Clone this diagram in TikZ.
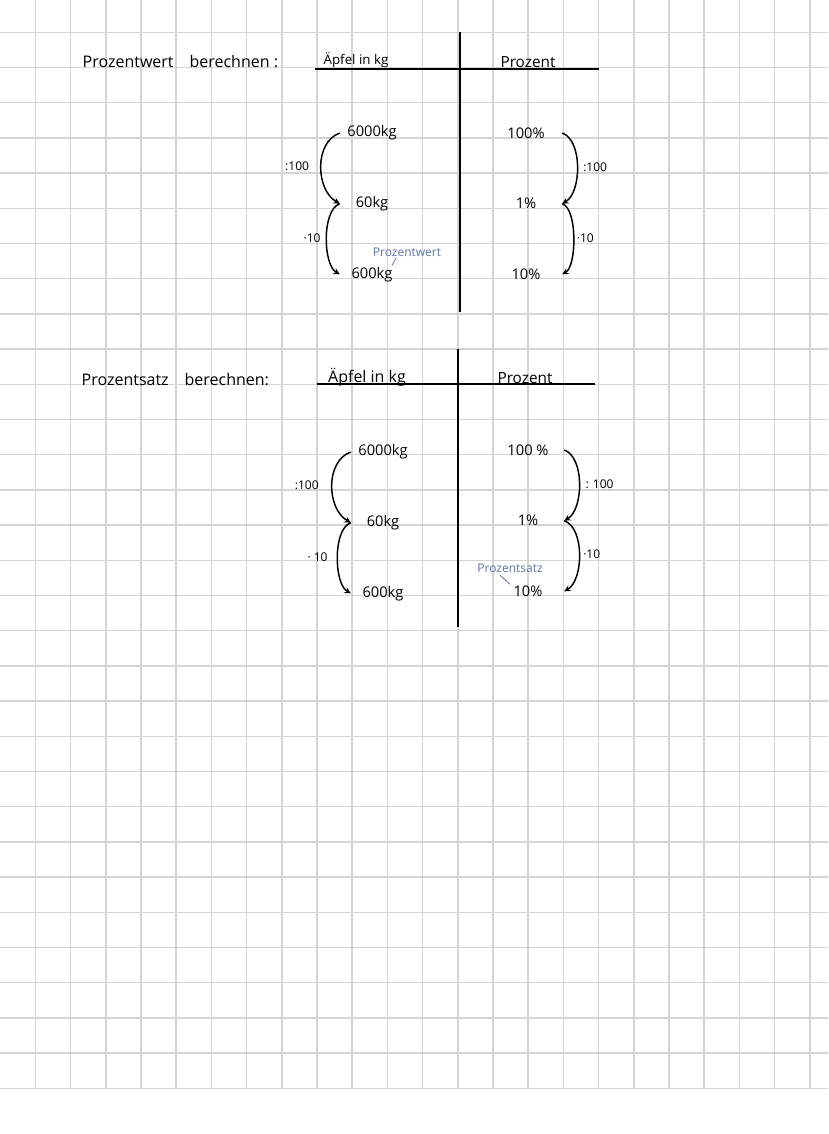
\documentclass[tikz,border=0pt]{standalone}
\usepackage{fontspec}
\setmainfont{Open Sans}
\usetikzlibrary{positioning}
\definecolor{notizblau}{RGB}{92,118,172}
\definecolor{gitter}{RGB}{212,212,212}

\begin{document}
\begin{tikzpicture}[x=0.75pt, y=0.75pt, node distance=53pt, on grid, >=stealth,
        titel/.style={anchor=west, font=\fontsize{12}{14}\selectfont},
        kopf/.style={font=\fontsize{11.5}{13}\selectfont},
        kg/.style={minimum width=48pt, inner sep=1pt, font=\fontsize{11}{13}\selectfont},
        pz/.style={minimum width=54pt, inner sep=1pt, font=\fontsize{11}{13}\selectfont},
        faktor/.style={inner sep=1pt, font=\fontsize{9}{11}\selectfont},
        notiz/.style={inner sep=1pt, text=notizblau, font=\fontsize{9}{11}\selectfont},
        pfeil/.style={->, line width=1.1pt},
        tabelle/.style={line width=1.5pt}]

        % Karopapier
        \useasboundingbox[fill=white] (0,0) rectangle (828,-1134);
        \foreach \i in {1,...,23}
            \draw[gitter, line width=1.1pt] (0.2+35.2*\i,0) -- (0.2+35.2*\i,-1088.3);
        \foreach \j in {0,...,30}
            \draw[gitter, line width=1.1pt] (0,-32.3-35.2*\j) -- (828,-32.3-35.2*\j);

        % Prozentwert
        \node[titel] (wtitel) at (78,-62) {Prozentwert\quad berechnen :};
        \node[kopf, font=\fontsize{10}{12}\selectfont] (wkopfkg) at (356,-60) {Äpfel in kg};
        \node[kopf] (wkopfp) at (528,-62) {Prozent};
        \coordinate (wlinks) at (315,-69);
        \coordinate (wrechts) at (599,-69);
        \coordinate (woben) at (460,-32);
        \coordinate (wunten) at (460,-312);
        \draw[tabelle] (wlinks) -- (wrechts) (woben) -- (wunten);

        \node[kg] (wkg1) at (372,-133) {6000kg};
        \node[kg, below=of wkg1] (wkg2) {60kg};
        \node[kg, below=of wkg2] (wkg3) {600kg};
        \node[pz] (wp1) at (526,-133) {100\%};
        \node[pz, below=of wp1] (wp2) {1\%};
        \node[pz, below=of wp2] (wp3) {10\%};
        \node[notiz] (wnotiz) at (407,-252) {Prozentwert};

        \path[pfeil]
        (wkg1.west) edge[out=200, in=150] node[faktor, left=7.5pt] {:100} (wkg2.west)
        (wkg2.west) edge[out=200, in=150, looseness=0.7] node[faktor, left=3pt] {·10} (wkg3.west)
        (wp1.east) edge[out=-20, in=30, looseness=0.8] node[faktor, right=3pt] {:100} (wp2.east)
        (wp2.east) edge[out=-20, in=30, looseness=0.6] node[faktor, right=1pt] {·10} (wp3.east);
        \draw[notizblau, line width=0.6pt] ([xshift=-8.25pt]wnotiz.south) -- ([xshift=15pt]wkg3.north);

        % Prozentsatz
        \node[titel] (stitel) at (77,-380) {Prozentsatz\quad berechnen:};
        \node[kopf, font=\fontsize{12}{14}\selectfont] (skopfkg) at (367,-377) {Äpfel in kg};
        \node[kopf] (skopfp) at (525,-378) {Prozent};
        \coordinate (slinks) at (317,-384);
        \coordinate (srechts) at (595,-384);
        \coordinate (soben) at (458,-349);
        \coordinate (sunten) at (458,-627);
        \draw[tabelle] (slinks) -- (srechts) (soben) -- (sunten);

        \node[kg] (skg1) at (383,-452) {6000kg};
        \node[kg, below=of skg1] (skg2) {60kg};
        \node[kg, below=of skg2] (skg3) {600kg};
        \node[pz] (sp1) at (528,-450) {100 \%};
        \node[pz, below=of sp1] (sp2) {1\%};
        \node[pz, below=of sp2] (sp3) {10\%};
        \node[notiz] (snotiz) at (510,-568) {Prozentsatz};

        \path[pfeil]
        (skg1.west) edge[out=200, in=150] node[faktor, left=8.5pt] {:100} (skg2.west)
        (skg2.west) edge[out=200, in=150, looseness=0.7] node[faktor, left=6pt] {· 10} (skg3.west)
        (sp1.east) edge[out=-20, in=30, looseness=0.8] node[faktor, right=3.25pt] {: 100} (sp2.east)
        (sp2.east) edge[out=-20, in=30, looseness=0.8] node[faktor, right=1.5pt] {·10} (sp3.east);
        \draw[notizblau, line width=0.6pt] ([xshift=-7.5pt, yshift=-1pt]snotiz.south) -- ([xshift=-13.5pt]sp3.north);
    \end{tikzpicture}
\end{document}
